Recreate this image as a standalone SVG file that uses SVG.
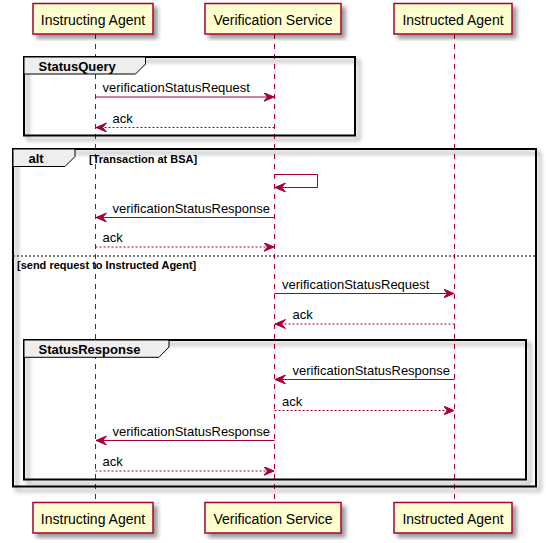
<svg xmlns="http://www.w3.org/2000/svg" width="546" height="543" viewBox="0 0 546 543">
<style>
.life{stroke:#A80036;stroke-width:1;stroke-dasharray:5,5;fill:none}
.part rect{fill:#FEFECE;stroke:#A80036;stroke-width:1.5}
.part text{font-family:"Liberation Sans",Arial,sans-serif;font-size:14px;fill:#000;text-anchor:middle}
.frame{fill:none;stroke:#000;stroke-width:2}
.tab{fill:#EEEEEE;stroke:#000;stroke-width:1}
.ttl{font-family:"Liberation Sans",Arial,sans-serif;font-size:13px;font-weight:bold;fill:#000}
.grd{font-family:"Liberation Sans",Arial,sans-serif;font-size:11px;font-weight:bold;fill:#000}
.sep{stroke:#000;stroke-width:1;stroke-dasharray:2,2;fill:none}
.msg{stroke:#A80036;stroke-width:1;fill:none;marker-end:url(#ah)}
.ret{stroke-dasharray:2,2}
.lbl{font-family:"Liberation Sans",Arial,sans-serif;font-size:13px;fill:#000}
</style>
<defs>
<filter id="sh" x="-10%" y="-10%" width="130%" height="130%">
<feGaussianBlur in="SourceAlpha" stdDeviation="2" result="b"/>
<feColorMatrix in="b" type="matrix" values="0 0 0 0 0 0 0 0 0 0 0 0 0 0 0 0 0 0 .4 0" result="b2"/>
<feOffset in="b2" dx="4" dy="4" result="b3"/>
<feMerge><feMergeNode in="b3"/><feMergeNode in="SourceGraphic"/></feMerge>
</filter>
<marker id="ah" markerUnits="userSpaceOnUse" markerWidth="12" markerHeight="10" refX="10.5" refY="4.5" orient="auto">
<path d="M0,0 L10.5,4.5 L0,9 L4,4.5 Z" fill="#A80036" stroke="#A80036" stroke-width="1" stroke-dasharray="none"/>
</marker>
</defs>

<g id="lifelines">
<line class="life" x1="95.5" y1="34" x2="95.5" y2="502.5"/>
<line class="life" x1="274.5" y1="34" x2="274.5" y2="502.5"/>
<line class="life" x1="454.5" y1="34" x2="454.5" y2="502.5"/>
</g>

<g id="instructing-agent" class="part">
<rect x="33" y="3.5" width="120" height="30.5" filter="url(#sh)"/>
<text x="93" y="24.5">Instructing Agent</text>
<rect x="33" y="502.5" width="120" height="30.5" filter="url(#sh)"/>
<text x="93" y="524">Instructing Agent</text>
</g>
<g id="verification-service" class="part">
<rect x="205" y="3.5" width="136" height="30.5" filter="url(#sh)"/>
<text x="273" y="24.5">Verification Service</text>
<rect x="205" y="502.5" width="136" height="30.5" filter="url(#sh)"/>
<text x="273" y="524">Verification Service</text>
</g>
<g id="instructed-agent" class="part">
<rect x="394" y="3.5" width="118" height="30.5" filter="url(#sh)"/>
<text x="453" y="24.5">Instructed Agent</text>
<rect x="394" y="502.5" width="118" height="30.5" filter="url(#sh)"/>
<text x="453" y="524">Instructed Agent</text>
</g>

<g id="group-statusquery">
<rect class="frame" x="24" y="57" width="331" height="78.5" filter="url(#sh)"/>
<polygon class="tab" points="24,57 145.5,57 145.5,64 135.5,74 24,74"/>
<text class="ttl" x="38.5" y="70.5">StatusQuery</text>
</g>

<g id="group-alt">
<rect class="frame" x="13" y="149" width="523" height="337.5" filter="url(#sh)"/>
<polygon class="tab" points="13,149 75,149 75,156.5 65,166.5 13,166.5"/>
<text class="ttl" x="28.5" y="163">alt</text>
<text class="grd" x="89" y="163.3">[Transaction at BSA]</text>
<line class="sep" x1="13" y1="256" x2="536" y2="256"/>
<text class="grd" x="17" y="268.5">[send request to Instructed Agent]</text>
</g>

<g id="group-statusresponse">
<rect class="frame" x="24" y="340" width="502" height="139.5" filter="url(#sh)"/>
<polygon class="tab" points="24,340 169,340 169,347 159,357.3 24,357.3"/>
<text class="ttl" x="38.5" y="353.5">StatusResponse</text>
</g>

<g id="connectors">
<line class="msg" x1="95.5" y1="97" x2="274" y2="97"/>
<line class="msg ret" x1="274.5" y1="127.5" x2="96" y2="127.5"/>
<path class="msg" d="M274.5,174.5 H317.5 V187.5 H275"/>
<line class="msg" x1="274.5" y1="217.5" x2="96" y2="217.5"/>
<line class="msg ret" x1="95.5" y1="247" x2="274" y2="247"/>
<line class="msg" x1="274.5" y1="293.5" x2="454" y2="293.5"/>
<line class="msg ret" x1="454.5" y1="324" x2="275" y2="324"/>
<line class="msg" x1="454.5" y1="379.5" x2="275" y2="379.5"/>
<line class="msg ret" x1="274.5" y1="410.5" x2="454" y2="410.5"/>
<line class="msg" x1="274.5" y1="440.5" x2="96" y2="440.5"/>
<line class="msg ret" x1="95.5" y1="471" x2="274" y2="471"/>
</g>

<g id="labels">
<text class="lbl" x="102.5" y="92">verificationStatusRequest</text>
<text class="lbl" x="112.5" y="122.5">ack</text>
<text class="lbl" x="112.5" y="212.5">verificationStatusResponse</text>
<text class="lbl" x="102.5" y="242">ack</text>
<text class="lbl" x="282" y="288.5">verificationStatusRequest</text>
<text class="lbl" x="292.5" y="319">ack</text>
<text class="lbl" x="292.5" y="374.5">verificationStatusResponse</text>
<text class="lbl" x="282" y="405.5">ack</text>
<text class="lbl" x="112.5" y="435.5">verificationStatusResponse</text>
<text class="lbl" x="102.5" y="466">ack</text>
</g>
</svg>
